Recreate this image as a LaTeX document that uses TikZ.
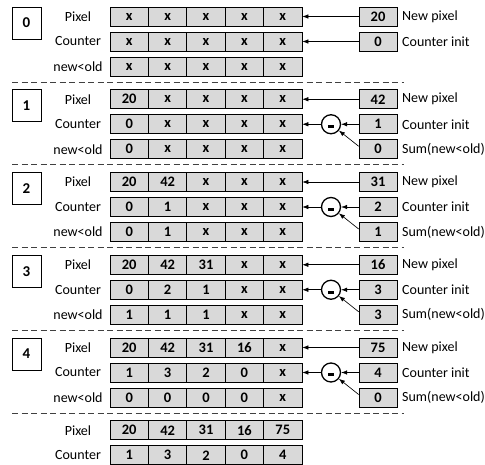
\documentclass[tikz,border=0pt]{standalone}
\usepackage{fontspec}
\setmainfont{Carlito}
\usetikzlibrary{arrows.meta}

% one row of five cells: #1 name prefix, #2 y centre, #3 values
\newcommand\cellrow[3]{%
  \edef\rowvals{#3}%
  \foreach \v [count=\i] in \rowvals {
    \node[cell] (#1-\i) at ({110+38.4*(\i-0.5)},#2) {\v};
  }}

% left part of a stage: #1 index, #2 y offset, #3 pixels, #4 counters, #5 new<old (empty = none)
\newcommand\stageleft[5]{%
  \node[rowlabel] (lp#1) at (78,16.5+#2) {Pixel};
  \node[rowlabel] (lc#1) at (78,41.5+#2) {Counter};
  \cellrow{p#1}{16.5+#2}{#3}
  \cellrow{c#1}{41.5+#2}{#4}
  \edef\nwvals{#5}%
  \ifx\nwvals\empty\else
    \node[rowlabel] (ln#1) at (78,66.5+#2) {new<old};
    \cellrow{n#1}{66.5+#2}{#5}
  \fi}

\begin{document}
\begin{tikzpicture}[x=1pt,y=-1pt,
  cell/.style={draw=black,line width=0.75pt,fill=black!15,minimum width=38.4pt,
    minimum height=19pt,inner sep=0pt,font=\fontsize{14.5}{16}\selectfont\bfseries},
  side/.style={cell,minimum width=38pt},
  rowlabel/.style={inner sep=0pt,font=\fontsize{14}{16}\selectfont},
  sidelabel/.style={anchor=west,inner sep=0pt,font=\fontsize{14}{16}\selectfont},
  stepbox/.style={draw=black,fill=white,line width=0.75pt,minimum width=29pt,
    minimum height=32pt,inner sep=0pt,font=\fontsize{15}{17}\selectfont\bfseries},
  minus/.style={circle,draw=black,line width=1.3pt,minimum size=19pt,inner sep=0pt},
  arr/.style={-{Latex[length=6pt,width=4.5pt]},line width=0.65pt},
  sep/.style={dash pattern=on 6pt off 3.5pt,line width=0.75pt,draw=black!75}
]
\useasboundingbox (0,0) rectangle (485,465);

% ---------------- stage 0 ----------------
\node[stepbox] (s0) at (26.5,23) {0};
\stageleft{0}{0}{x,x,x,x,x}{x,x,x,x,x}{x,x,x,x,x}
\node[side] (np0) at (378,16.5) {20};
\node[sidelabel] (tnp0) at (402,16.5) {New pixel};
\node[side] (ci0) at (378,41.5) {0};
\node[sidelabel] (tci0) at (402,41.5) {Counter init};
\draw[arr] (np0) -- (p0-5);
\draw[arr] (ci0) -- (c0-5);
\coordinate (d0a) at (12,82); \coordinate (d0b) at (404,82);
\draw[sep] (d0a) -- (d0b);

% ---------------- stages 1 to 4 ----------------
\foreach \k/\off/\pix/\cnt/\nwo/\np/\ci/\sm in {
    1/82.75/{20,x,x,x,x}/{0,x,x,x,x}/{0,x,x,x,x}/42/1/0,
    2/165.5/{20,42,x,x,x}/{0,1,x,x,x}/{0,1,x,x,x}/31/2/1,
    3/248.25/{20,42,31,x,x}/{0,2,1,x,x}/{1,1,1,x,x}/16/3/3,
    4/331/{20,42,31,16,x}/{1,3,2,0,x}/{0,0,0,0,x}/75/4/0} {
  \node[stepbox] (s\k) at (26.5,23+\off) {\k};
  \stageleft{\k}{\off}{\pix}{\cnt}{\nwo}
  \node[side] (np\k) at (378,16.5+\off) {\np};
  \node[sidelabel] (tnp\k) at (402,16.5+\off) {New pixel};
  \node[side] (ci\k) at (378,41.5+\off) {\ci};
  \node[sidelabel] (tci\k) at (402,41.5+\off) {Counter init};
  \node[side] (sm\k) at (378,66.5+\off) {\sm};
  \node[sidelabel] (tsm\k) at (402,66.5+\off) {Sum(new<old)};
  \node[minus] (m\k) at (331,41.5+\off) {};
  \fill ([xshift=-3.3pt,yshift=-0.8pt]m\k.center) rectangle ([xshift=3.3pt,yshift=-3.8pt]m\k.center);
  \draw[arr] (np\k) -- (p\k-5);
  \draw[arr] (ci\k) -- (m\k);
  \draw[arr] (m\k) -- (c\k-5);
  \draw[arr] ([yshift=3pt]sm\k.west) -- (m\k);
  \coordinate (d\k a) at (12,82+\off); \coordinate (d\k b) at (404,82+\off);
  \draw[sep] (d\k a) -- (d\k b);
}

% ---------------- result ----------------
\stageleft{5}{413.75}{20,42,31,16,75}{1,3,2,0,4}{}
\end{tikzpicture}
\end{document}
